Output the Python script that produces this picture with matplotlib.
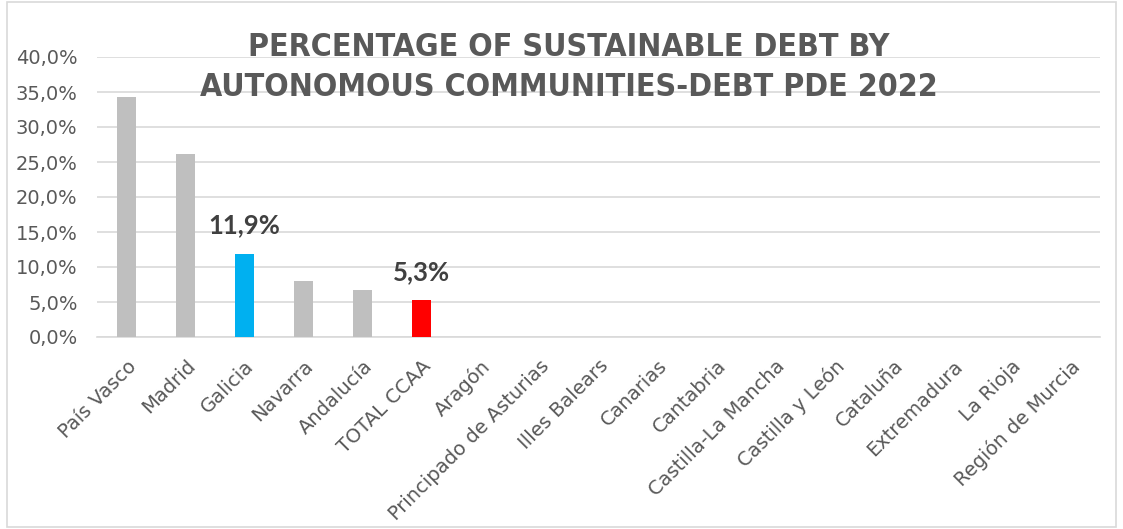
import matplotlib
matplotlib.use("Agg")
import matplotlib.pyplot as plt
from matplotlib.patches import Rectangle
from matplotlib import font_manager

regions = ["País Vasco", "Madrid", "Galicia", "Navarra", "Andalucía", "TOTAL CCAA",
           "Aragón", "Principado de Asturias", "Illes Balears", "Canarias", "Cantabria",
           "Castilla-La Mancha", "Castilla y León", "Cataluña", "Extremadura",
           "La Rioja", "Región de Murcia"]
values = [34.3, 26.1, 11.9, 8.0, 6.7, 5.3, 0, 0, 0, 0, 0, 0, 0, 0, 0, 0, 0]
labelled = {"Galicia": "11,9%", "TOTAL CCAA": "5,3%"}
colors = {"Galicia": "#00B0F0", "TOTAL CCAA": "#FF0000"}

# narrow bold font for the title if there is one
title_prop = None
for f in font_manager.fontManager.ttflist:
    if f.fname.endswith("LiberationSansNarrow-Bold.ttf") or f.fname.endswith("DejaVuSansCondensed-Bold.ttf"):
        title_prop = font_manager.FontProperties(fname=f.fname, size=23)
        if "Liberation" in f.fname:
            break
if title_prop is None:
    title_prop = font_manager.FontProperties(family="DejaVu Sans", weight="bold", size=20)

plt.rcParams['font.family'] = ['DejaVu Sans']

fig = plt.figure(figsize=(11.23, 5.29), dpi=100)
ax = fig.add_axes([97/1123, 1-337/529, (1100-97)/1123, (337-57)/529])

bar_cols = [colors.get(r, "#BFBFBF") for r in regions]
x = range(len(regions))
ax.bar(x, values, width=0.31, color=bar_cols, zorder=3)

for i, r in enumerate(regions):
    if r in labelled:
        ax.text(i, values[i] + 2.3, labelled[r], ha='center', va='bottom',
                fontsize=18.5, fontweight='bold', color='#404040', family='Lato')

ax.set_xlim(-0.5, len(regions) - 0.5)
ax.set_ylim(0, 40)
ax.set_yticks(range(0, 41, 5))
ax.set_yticklabels([f"{v},0%" for v in range(0, 41, 5)], fontsize=14, color='#595959')
ax.set_xticks(list(x))
ax.set_xticklabels(regions, rotation=45, ha='right', rotation_mode='anchor',
                   fontsize=14, color='#595959')
ax.tick_params(axis='y', length=0, pad=14)
ax.tick_params(axis='x', length=0, pad=14)
ax.grid(axis='y', color='#D9D9D9', linewidth=1.2, zorder=0)
for s in ['top', 'right', 'left']:
    ax.spines[s].set_visible(False)
ax.spines['bottom'].set_color('#D9D9D9')
ax.spines['bottom'].set_linewidth(1.2)

fig.text(569/1123, 1-48/529, "PERCENTAGE OF SUSTAINABLE DEBT BY", ha='center', va='center',
         fontproperties=title_prop, color='#595959')
fig.text(569/1123, 1-88/529, "AUTONOMOUS COMMUNITIES-DEBT PDE 2022", ha='center', va='center',
         fontproperties=title_prop, color='#595959')

fig.patches.append(Rectangle((7/1123, 2/529), 1 - 14/1123, 1 - 4/529, transform=fig.transFigure,
                             fill=False, edgecolor='#D9D9D9', linewidth=1.2))

fig.savefig("out.png", dpi=100)
